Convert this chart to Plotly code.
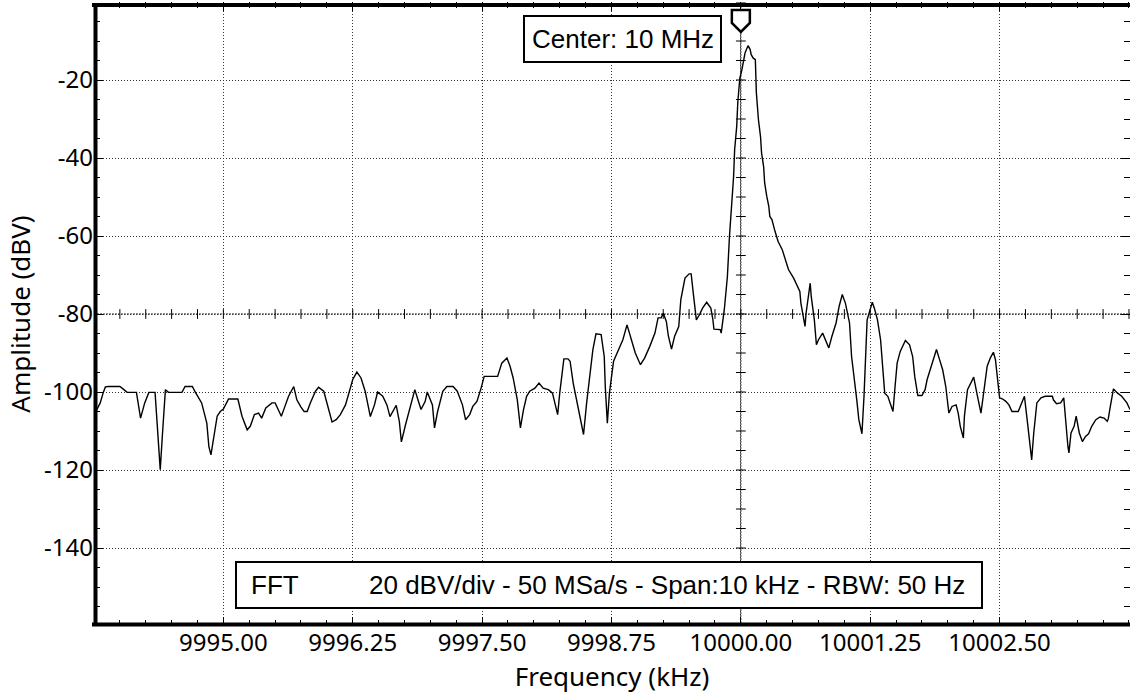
import plotly.graph_objects as go

# ---------------- data ----------------
FREQ_KHZ = [
    9993.76, 9993.81, 9993.84, 9993.86, 9993.89, 9994.00, 9994.03, 9994.07, 9994.16, 9994.20,
    9994.24, 9994.28, 9994.34, 9994.37, 9994.39, 9994.41, 9994.44, 9994.47, 9994.60, 9994.63,
    9994.70, 9994.73, 9994.79, 9994.84, 9994.86, 9994.88, 9994.91, 9994.94, 9994.97, 9995.00,
    9995.05, 9995.14, 9995.18, 9995.23, 9995.26, 9995.30, 9995.34, 9995.37, 9995.41, 9995.47,
    9995.50, 9995.56, 9995.60, 9995.63, 9995.68, 9995.71, 9995.75,
    9995.78, 9995.81, 9995.84, 9995.89, 9995.92, 9995.97, 9996.00, 9996.05, 9996.09, 9996.13,
    9996.18, 9996.21, 9996.25, 9996.29, 9996.33, 9996.37, 9996.40, 9996.42, 9996.46, 9996.49,
    9996.54, 9996.58, 9996.61, 9996.64, 9996.67, 9996.70, 9996.72, 9996.76, 9996.81, 9996.85,
    9996.88, 9996.91, 9996.95, 9996.97, 9997.02, 9997.04, 9997.07, 9997.12, 9997.16, 9997.22,
    9997.26, 9997.31, 9997.34, 9997.38, 9997.41, 9997.45, 9997.49, 9997.52, 9997.65,
    9997.69, 9997.74, 9997.77, 9997.80, 9997.84, 9997.87, 9997.90, 9997.93, 9997.96, 9998.01,
    9998.05, 9998.09, 9998.14, 9998.18, 9998.21, 9998.23, 9998.25, 9998.29, 9998.33, 9998.35,
    9998.38, 9998.42, 9998.46, 9998.48, 9998.51, 9998.54, 9998.57, 9998.60, 9998.65, 9998.68,
    9998.69, 9998.71, 9998.73, 9998.77, 9998.81, 9998.86, 9998.90, 9998.94, 9998.98, 9999.03,
    9999.07, 9999.12, 9999.17, 9999.20, 9999.23, 9999.25, 9999.28, 9999.30, 9999.33, 9999.36,
    9999.40, 9999.42, 9999.46, 9999.50, 9999.52, 9999.54, 9999.57, 9999.60, 9999.63, 9999.67,
    9999.71, 9999.73, 9999.74, 9999.80, 9999.81, 9999.84, 9999.87,
    9999.89, 9999.91, 9999.93, 9999.94, 9999.96, 9999.97, 9999.99, 10000.01, 10000.02, 10000.04,
    10000.06, 10000.07, 10000.09, 10000.10, 10000.12, 10000.14, 10000.15, 10000.17, 10000.19, 10000.20,
    10000.22, 10000.23, 10000.25, 10000.27, 10000.28, 10000.30, 10000.33, 10000.36, 10000.40, 10000.43,
    10000.46, 10000.51, 10000.54, 10000.57, 10000.58, 10000.60, 10000.62, 10000.63, 10000.65, 10000.67,
    10000.68, 10000.71, 10000.73, 10000.75, 10000.79, 10000.82, 10000.85, 10000.88, 10000.92, 10000.95,
    10000.98, 10001.01,
    10001.03, 10001.05, 10001.07, 10001.10, 10001.12, 10001.14, 10001.17, 10001.19, 10001.21, 10001.22,
    10001.24, 10001.27, 10001.29, 10001.32, 10001.35, 10001.37, 10001.39, 10001.42, 10001.44, 10001.47,
    10001.49, 10001.51, 10001.54, 10001.56, 10001.59, 10001.63, 10001.66, 10001.68, 10001.71, 10001.75,
    10001.78, 10001.80, 10001.84, 10001.86, 10001.89, 10001.92, 10001.95, 10001.98, 10002.01, 10002.04,
    10002.08, 10002.10, 10002.12, 10002.15, 10002.16, 10002.19, 10002.22, 10002.25, 10002.28, 10002.30,
    10002.32, 10002.35, 10002.38, 10002.41, 10002.44, 10002.46, 10002.48, 10002.50, 10002.53, 10002.56,
    10002.59, 10002.62, 10002.68, 10002.71, 10002.74, 10002.77, 10002.79, 10002.81, 10002.83, 10002.86,
    10002.90, 10002.94, 10003.01, 10003.02, 10003.05, 10003.09, 10003.12, 10003.14, 10003.16, 10003.17,
    10003.19, 10003.22, 10003.24, 10003.27, 10003.30, 10003.33, 10003.36, 10003.39, 10003.43, 10003.47,
    10003.51, 10003.54, 10003.55, 10003.57, 10003.60, 10003.64, 10003.68, 10003.73, 10003.76,
]
AMP_DBV = [
    -105.4, -102.8, -100.1, -98.7, -98.6, -98.6, -99.2, -100.1, -100.1, -106.7,
    -102.8, -100.1, -100.1, -111.4, -119.9, -111.4, -99.4, -100.1, -100.1, -98.6,
    -98.6, -100.1, -102.8, -108.0, -114.0, -116.1, -111.4, -106.2, -105.0, -104.4,
    -101.8, -101.8, -106.2, -109.7, -108.8, -105.8, -105.4, -106.7, -104.1, -102.8,
    -102.8, -106.2, -103.3, -101.1, -98.6, -102.0, -103.9,
    -105.0, -105.0, -102.8, -99.8, -98.8, -99.8, -102.8, -107.7, -107.1, -105.8,
    -103.3, -100.7, -96.8, -94.9, -96.4, -99.8, -103.3, -106.3, -103.3, -100.0,
    -101.1, -103.3, -106.3, -105.0, -103.4, -107.5, -112.8, -108.4, -103.3, -99.4,
    -102.0, -104.5, -102.4, -100.0, -103.3, -109.2, -105.0, -99.8, -98.6, -98.6,
    -99.8, -103.3, -107.1, -105.8, -103.7, -102.4, -99.0, -96.0, -96.0,
    -92.6, -91.3, -93.4, -96.4, -102.0, -109.2, -104.5, -101.1, -99.8, -99.0,
    -97.7, -99.0, -99.4, -100.3, -103.7, -105.8, -100.3, -91.5, -91.5, -92.1,
    -97.7, -102.8, -108.0, -110.9, -102.8, -96.0, -89.2, -85.1, -85.3, -90.9,
    -98.6, -108.0, -100.3, -92.1, -89.6, -86.6, -82.8, -86.6, -90.0, -93.0,
    -91.3, -88.3, -84.9, -81.0, -81.0, -79.8, -81.9, -85.7, -89.0, -85.7,
    -83.2, -76.3, -70.8, -69.7, -69.7, -74.6, -81.5, -80.2, -78.5, -77.0,
    -78.5, -81.5, -83.9, -84.0, -84.9, -78.9, -70.4,
    -60.1, -52.4, -44.7, -37.9, -31.9, -25.9, -19.5, -17.4, -15.7, -13.1,
    -11.8, -11.2, -12.2, -13.5, -14.4, -14.8, -23.3, -30.2, -34.5, -38.7,
    -42.2, -46.4, -49.8, -52.4, -55.0, -55.8, -58.8, -61.4, -63.5, -66.1,
    -68.6, -70.8, -72.5, -74.2, -77.2, -80.6, -83.2, -79.8, -75.5, -72.1,
    -75.5, -81.5, -87.9, -86.6, -84.9, -86.6, -88.7, -85.7, -82.3, -78.0,
    -75.0, -77.2,
    -79.7, -82.3, -90.9, -96.8, -102.0, -107.1, -110.7, -101.1, -88.3, -81.5,
    -79.7, -77.0, -78.5, -81.5, -86.6, -92.6, -100.3, -101.1, -102.8, -105.0,
    -98.6, -92.6, -89.6, -88.3, -86.8, -87.9, -90.9, -96.0, -100.9, -100.9,
    -99.4, -96.8, -93.6, -91.7, -89.1, -91.7, -94.3, -98.6, -105.4, -103.7,
    -103.3, -105.4, -108.8, -111.8, -106.2, -99.4, -97.7, -96.2, -100.3, -102.8,
    -105.4, -99.4, -93.4, -91.3, -89.8, -91.7, -96.0, -101.5, -101.8, -102.4,
    -103.3, -105.0, -105.0, -102.8, -101.1, -108.0, -113.1, -117.4, -110.5, -102.8,
    -101.5, -101.1, -101.1, -102.0, -103.0, -102.8, -101.5, -108.8, -113.9, -115.6,
    -110.5, -108.8, -106.2, -110.5, -112.7, -111.4, -110.7, -108.8, -107.1, -106.4,
    -106.7, -107.5, -106.9, -103.7, -99.2, -100.3, -101.1, -102.8, -104.5,
]

X_TICKS = [9995.00, 9996.25, 9997.50, 9998.75, 10000.00, 10001.25, 10002.50]
Y_TICKS = [-140, -120, -100, -80, -60, -40, -20]
X_RANGE = [9993.75, 10003.76]
Y_RANGE = [-160, 0]
CENTER_KHZ = 10000.0
REF_DBV = -80
X_MINOR_STEP = 0.25
Y_MINOR_STEP = 5

CENTER_LABEL = "Center: 10 MHz"
FFT_LABEL = "FFT"
FFT_INFO = "20 dBV/div - 50 MSa/s - Span:10 kHz - RBW: 50 Hz"
X_TITLE = "Frequency (kHz)"
Y_TITLE = "Amplitude (dBV)"

# ---------------- layout geometry ----------------
W, H = 1130, 694
L, R, T, B = 94, 0, 2, 68
PW, PH = W - L - R, H - T - B


def pxx(x):
    return (x - L) / PW


def pxy(y):
    return (H - B - y) / PH


TICK_FONT = dict(family="Noto Sans", size=24, color="black")
TITLE_FONT = dict(family="Noto Sans", size=26, color="black")
TEXT_FONT = dict(family="Liberation Sans", size=26, color="black")

fig = go.Figure()

# spectrum trace
fig.add_trace(go.Scatter(
    x=FREQ_KHZ, y=AMP_DBV, mode="lines",
    line=dict(color="black", width=1.4),
    hoverinfo="skip",
))

# crosshair ticks (centre graticule)
n_x = int(round((X_RANGE[1] - X_RANGE[0]) / X_MINOR_STEP)) + 1
cross_x = [X_RANGE[0] + X_MINOR_STEP * i for i in range(n_x)]
n_y = int(round((Y_RANGE[1] - Y_RANGE[0]) / Y_MINOR_STEP)) + 1
cross_y = [Y_RANGE[0] + Y_MINOR_STEP * i for i in range(n_y)]
fig.add_trace(go.Scatter(
    x=cross_x, y=[REF_DBV] * len(cross_x), mode="markers",
    marker=dict(symbol="line-ns", size=7, line=dict(color="black", width=1)),
    hoverinfo="skip",
))
fig.add_trace(go.Scatter(
    x=[CENTER_KHZ] * len(cross_y), y=cross_y, mode="markers",
    marker=dict(symbol="line-ew", size=7, line=dict(color="black", width=1)),
    hoverinfo="skip",
))

grid = dict(showgrid=True, gridcolor="#333333", gridwidth=1, griddash="1px,2px")

fig.update_xaxes(
    range=X_RANGE, tickmode="array", tickvals=X_TICKS,
    ticktext=[f"{v:.2f}" for v in X_TICKS],
    ticks="inside", ticklen=9, tickwidth=1, tickcolor="black",
    mirror="ticks", showline=False, zeroline=False, automargin=False,
    minor=dict(ticks="inside", ticklen=6, tickwidth=1, tickcolor="black",
               tickmode="linear", tick0=X_RANGE[0], dtick=X_MINOR_STEP, showgrid=False),
    tickfont=TICK_FONT,
    title=dict(text=X_TITLE, font=TITLE_FONT, standoff=5),
    **grid,
)
fig.update_yaxes(
    range=Y_RANGE, tickmode="array", tickvals=Y_TICKS,
    ticktext=[f"{v:d}" for v in Y_TICKS],
    ticks="inside", ticklen=9, tickwidth=1, tickcolor="black",
    mirror="ticks", showline=False, zeroline=False, automargin=False,
    minor=dict(ticks="inside", ticklen=6, tickwidth=1, tickcolor="black",
               tickmode="linear", tick0=Y_RANGE[0], dtick=Y_MINOR_STEP, showgrid=False),
    tickfont=TICK_FONT,
    title=dict(text=Y_TITLE, font=TITLE_FONT, standoff=5),
    **grid,
)

shapes = []
# centre crosshair lines
shapes.append(dict(type="line", xref="paper", yref="y", x0=0, x1=1, y0=REF_DBV, y1=REF_DBV,
                   line=dict(color="#222222", width=1, dash="2px,1px"), layer="below"))
shapes.append(dict(type="line", xref="x", yref="paper", x0=CENTER_KHZ, x1=CENTER_KHZ, y0=0, y1=1,
                   line=dict(color="#222222", width=1, dash="2px,1px"), layer="below"))
# thick frame (left, top, bottom)
fx, ft, fb = pxx(95.5), pxy(5), pxy(624.5)
for x0, y0, x1, y1 in [(fx, fb, fx, ft), (pxx(92), ft, 1.01, ft), (pxx(92), fb, 1.01, fb)]:
    shapes.append(dict(type="line", xref="paper", yref="paper", x0=x0, y0=y0, x1=x1, y1=y1,
                       line=dict(color="black", width=4)))
# centre marker (home-plate shape)
shapes.append(dict(type="path", xref="x", yref="paper", xsizemode="pixel", ysizemode="pixel",
                   xanchor=CENTER_KHZ, yanchor=1,
                   path="M -9,-8 L 9,-8 L 9,-21 L 0,-30 L -9,-21 Z",
                   line=dict(color="black", width=2.5), fillcolor="white"))
# label boxes
shapes.append(dict(type="rect", xref="paper", yref="paper",
                   x0=pxx(524), x1=pxx(721), y0=pxy(62), y1=pxy(16),
                   line=dict(color="black", width=2), fillcolor="white"))
shapes.append(dict(type="rect", xref="paper", yref="paper",
                   x0=pxx(236), x1=pxx(982), y0=pxy(608), y1=pxy(562),
                   line=dict(color="black", width=2), fillcolor="white"))

annotations = [
    dict(text=CENTER_LABEL, xref="paper", yref="paper", x=pxx(622.5), y=pxy(39),
         xanchor="center", yanchor="middle", showarrow=False, font=TEXT_FONT),
    dict(text=FFT_LABEL, xref="paper", yref="paper", x=pxx(249), y=pxy(585),
         xanchor="left", yanchor="middle", showarrow=False, font=TEXT_FONT),
    dict(text=FFT_INFO, xref="paper", yref="paper", x=pxx(967), y=pxy(585),
         xanchor="right", yanchor="middle", showarrow=False, font=TEXT_FONT),
]

fig.update_layout(
    width=W, height=H,
    margin=dict(l=L, r=R, t=T, b=B, pad=0),
    plot_bgcolor="white", paper_bgcolor="white",
    showlegend=False,
    shapes=shapes, annotations=annotations,
)

# remove the default 8px page margin so the figure fills the window exactly
fig.write_html(
    "out.html",
    config={"displayModeBar": False, "staticPlot": True},
    post_script="document.body.style.margin='0';document.body.style.overflow='hidden';",
)
